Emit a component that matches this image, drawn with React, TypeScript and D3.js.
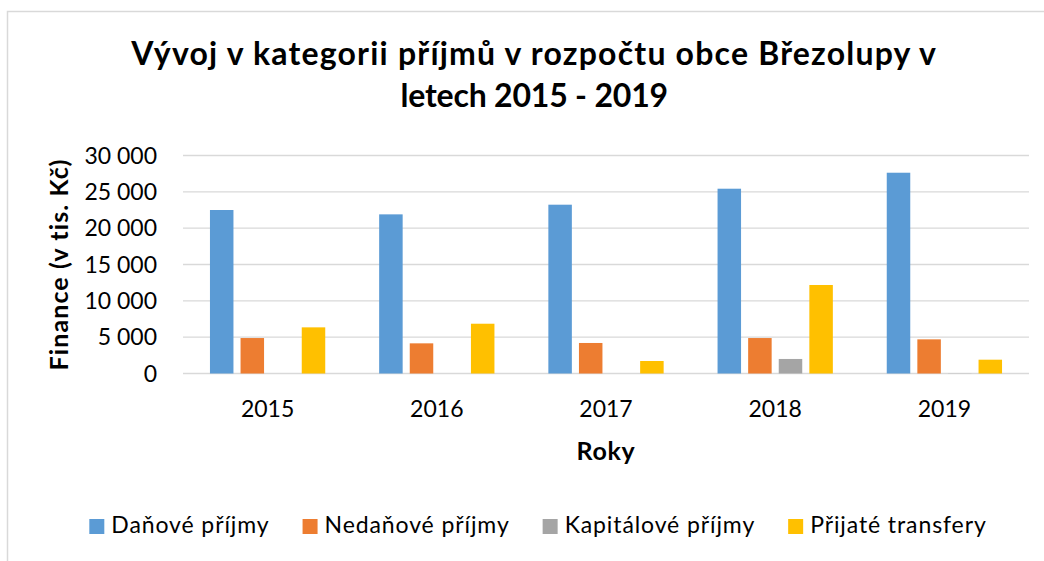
import React, { useEffect, useRef } from "react";
import * as d3 from "d3";

const years = ["2015", "2016", "2017", "2018", "2019"];
const seriesNames = ["Daňové příjmy", "Nedaňové příjmy", "Kapitálové příjmy", "Přijaté transfery"];
const danove = [22500, 21900, 23230, 25430, 27630];
const nedanove = [4880, 4150, 4200, 4880, 4700];
const kapitalove = [0, 0, 0, 2000, 20];
const prijate = [6350, 6850, 1720, 12180, 1900];
const colors = ["#5B9BD5", "#ED7D31", "#A5A5A5", "#FFC000"];
const yTicks = [0, 5000, 10000, 15000, 20000, 25000, 30000];
const titleLines = ["Vývoj v kategorii příjmů v rozpočtu obce Březolupy v", "letech 2015 - 2019"];

const W = 1044;
const H = 561;
const FONT = "Lato, 'Open Sans', sans-serif";

export default function App() {
  const ref = useRef<SVGSVGElement>(null);

  useEffect(() => {
    const svg = d3.select(ref.current);
    svg.selectAll("*").remove();

    const values = [danove, nedanove, kapitalove, prijate];
    const plot = { left: 183, right: 1029, top: 155.5, bottom: 373.5 };

    svg.append("rect").attr("width", W).attr("height", H).attr("fill", "#fff");
    svg.append("rect")
      .attr("x", 7.5).attr("y", 11.5).attr("width", 1200).attr("height", 700)
      .attr("fill", "#fff").attr("stroke", "#D9D9D9").attr("stroke-width", 1.5);

    const x0 = d3.scaleBand<string>().domain(years).range([plot.left, plot.right]).padding(0);
    const x1 = d3.scaleBand<number>().domain(d3.range(seriesNames.length))
      .range([0, x0.bandwidth()]).paddingInner(0.232).paddingOuter(0.881);
    const y = d3.scaleLinear().domain([0, 30000]).range([plot.bottom, plot.top]);

    // gridlines
    svg.append("g").selectAll("line").data(yTicks).join("line")
      .attr("x1", plot.left).attr("x2", plot.right)
      .attr("y1", (d) => y(d)).attr("y2", (d) => y(d))
      .attr("stroke", "#D9D9D9").attr("stroke-width", 1.3);

    // y tick labels
    const fmt = (v: number) => d3.format(",")(v).replace(/,/g, " ");
    svg.append("g").selectAll("text").data(yTicks).join("text")
      .attr("x", 157).attr("y", (d) => y(d) + 8.2)
      .attr("text-anchor", "end")
      .attr("font-family", FONT).attr("font-size", 23).attr("fill", "#000")
      .text((d) => fmt(d));

    // bars
    values.forEach((vals, si) => {
      svg.append("g").selectAll("rect").data(vals).join("rect")
        .attr("x", (_d, i) => (x0(years[i]) as number) + (x1(si) as number))
        .attr("width", x1.bandwidth())
        .attr("y", (d) => y(d))
        .attr("height", (d) => y(0) - y(d))
        .attr("fill", colors[si]);
    });

    // x labels
    svg.append("g").selectAll("text").data(years).join("text")
      .attr("x", (d) => (x0(d) as number) + x0.bandwidth() / 2)
      .attr("y", 416.7)
      .attr("text-anchor", "middle")
      .attr("font-family", FONT).attr("font-size", 23).attr("fill", "#000")
      .text((d) => d);

    // axis titles
    svg.append("text")
      .attr("x", (plot.left + plot.right) / 2).attr("y", 460)
      .attr("text-anchor", "middle")
      .attr("font-family", FONT).attr("font-size", 25).attr("font-weight", "bold")
      .attr("letter-spacing", 0.7)
      .text("Roky");

    svg.append("text")
      .attr("transform", `translate(68,${(plot.top + plot.bottom) / 2}) rotate(-90)`)
      .attr("text-anchor", "middle")
      .attr("font-family", FONT).attr("font-size", 25).attr("font-weight", "bold")
      .attr("letter-spacing", 1.1)
      .text("Finance (v tis. Kč)");

    // title
    svg.append("g").selectAll("text").data(titleLines).join("text")
      .attr("x", 534.2).attr("y", (_d, i) => 65 + i * 42)
      .attr("text-anchor", "middle")
      .attr("font-family", FONT).attr("font-size", 32).attr("font-weight", "bold")
      .attr("letter-spacing", (_d, i) => (i === 0 ? 1.2 : -0.2))
      .text((d) => d);

    // legend
    const leg = svg.append("g");
    const sq = 15, gap = 7, spacing = 33;
    const items = seriesNames.map((name, i) => {
      const g = leg.append("g");
      g.append("rect").attr("width", sq).attr("height", sq).attr("y", 519).attr("fill", colors[i]);
      const t = g.append("text").attr("x", sq + gap).attr("y", 533.3)
        .attr("font-family", FONT).attr("font-size", 23).attr("fill", "#000")
        .attr("letter-spacing", 0.9).text(name);
      const w = (t.node() as SVGTextElement).getComputedTextLength();
      return { g, w: sq + gap + w };
    });
    const total = d3.sum(items, (d) => d.w) + spacing * (items.length - 1);
    let cx = 538 - total / 2;
    items.forEach((it) => {
      it.g.attr("transform", `translate(${cx},0)`);
      cx += it.w + spacing;
    });
  }, []);

  return (
    <svg ref={ref} width={W} height={H} style={{ position: "absolute", left: 0, top: 0 }} />
  );
}
